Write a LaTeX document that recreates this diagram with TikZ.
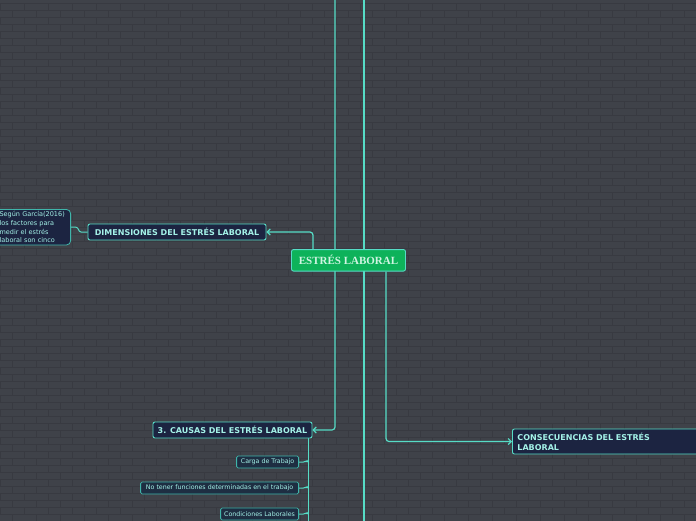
\documentclass[tikz,border=0pt]{standalone}
\usepackage{fontspec}
\setmainfont{DejaVu Sans}
\newfontfamily\serifb{Liberation Serif}
\usetikzlibrary{arrows.meta}
\definecolor{bgc}{HTML}{3F4249}
\definecolor{brick}{HTML}{383A41}
\definecolor{linec}{HTML}{56DCC6}
\definecolor{navy}{HTML}{1C2441}
\definecolor{childfill}{HTML}{1E2E42}
\definecolor{childline}{HTML}{3FB5AA}
\definecolor{txtc}{HTML}{A4F2E8}
\definecolor{greenf}{HTML}{0DB25A}
\definecolor{centxt}{HTML}{CFF5E2}
\pgfdeclarelayer{bg}
\pgfdeclarelayer{background}
\pgfsetlayers{bg,background,main}
\tikzset{
  conn/.style={draw=linec, line width=1.2pt},
  arr/.style={-{Straight Barb[length=3pt,width=6pt]}},
  mainbox/.style={draw=linec, fill=greenf, line width=0.9pt, rounded corners=2pt,
    font=\serifb\bfseries\fontsize{11}{12}\selectfont, text=centxt,
    minimum width=114pt, minimum height=21.5pt, inner sep=0pt},
  topic/.style={draw=linec, fill=navy, line width=0.9pt, rounded corners=2pt,
    font=\bfseries\fontsize{8}{10}\selectfont, text=txtc, inner sep=0pt, minimum height=16pt},
  child/.style={draw=childline, fill=childfill, line width=0.8pt, rounded corners=1.5pt,
    font=\fontsize{6.3}{7}\selectfont, text=txtc, inner sep=0pt, minimum height=12pt},
  notebox/.style={draw=childline, fill=navy, line width=0.8pt, rounded corners=4pt,
    font=\fontsize{6.5}{8.7}\selectfont, text=txtc, align=left, inner xsep=4pt, inner ysep=2pt,
    text width=67pt}
}
\begin{document}
\begin{tikzpicture}[x=1pt,y=-1pt]
\useasboundingbox (0,0) rectangle (696,520);
\begin{pgfonlayer}{bg}
  \fill[bgc] (-20,-20) rectangle (720,540);
  \foreach \r in {0,...,75}{
    \draw[brick, line width=0.6pt] (0,{\r*7+3}) -- (696,{\r*7+3});
    \pgfmathsetmacro{\off}{mod(\r,2)*12}
    \foreach \c in {0,...,30}{
      \draw[brick, line width=0.6pt] ({\c*24+\off},{\r*7+3}) -- ({\c*24+\off},{\r*7+10});
    }
  }
\end{pgfonlayer}

\node[mainbox] (center) at (348.5,260.3) {ESTRÉS LABORAL};
\node[topic, minimum width=178pt] (dim) at (177,232) {DIMENSIONES DEL ESTRÉS LABORAL};
\node[notebox, anchor=east] (note) at (71,227.2) {Según García(2016)\\los factores para\\medir el estrés\\laboral son cinco};
\node[topic, minimum width=159pt] (causas) at (232.5,430) {3. CAUSAS DEL ESTRÉS LABORAL};
\node[topic, anchor=west, minimum width=210pt, minimum height=25pt, text width=200pt,
  align=left, inner xsep=5pt] (conseq) at (512,441.5) {CONSECUENCIAS DEL ESTRÉS\\LABORAL};
\node[child, anchor=east, minimum width=62pt] (c1) at (299,462) {Carga de Trabajo};
\node[child, anchor=east, minimum width=158pt] (c2) at (299,488) {No tener funciones determinadas en el trabajo};
\node[child, anchor=east, minimum width=78pt] (c3) at (299,514) {Condiciones Laborales};

\coordinate (xa) at (335,-2);
\coordinate (xb) at (364,-2);
\coordinate (xbend) at (364,522);
\coordinate (xc) at (386,0);
\coordinate (xd) at (313,0);
\coordinate (xe) at (308,522);

\begin{pgfonlayer}{background}
  \draw[conn, arr, rounded corners=3pt] (xa) |- (causas.east);
  \draw[conn] (xb) -- (xbend);
  \draw[conn, arr, rounded corners=3pt] (center.south -| xc) |- (conseq.west);
  \draw[conn, arr, rounded corners=3pt] (center.north -| xd) |- (dim.east);
  \draw[conn, line width=1pt] (note.east) -- ++(5,0) to[out=0,in=180] ++(5,4.8) -- (dim.west);
  \draw[conn, line width=1pt] (causas.south -| xe) -- (xe);
  \foreach \n in {c1,c2,c3}{
    \draw[conn, line width=1pt, rounded corners=1.5pt] (\n.east) -- ++(6,0) -- ++(1.5,-1.2) -- (\n.east -| xe);
  }
\end{pgfonlayer}
\end{tikzpicture}
\end{document}
